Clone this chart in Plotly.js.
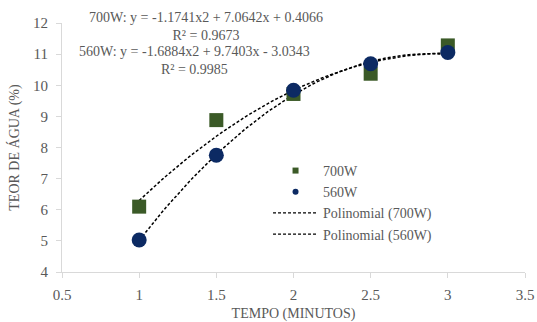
<!DOCTYPE html>
<html>
<head>
<meta charset="utf-8">
<script src="https://cdn.plot.ly/plotly-3.0.1.min.js"></script>
<style>html,body{margin:0;padding:0;background:#fff;}#chart{width:537px;height:322px;}</style>
</head>
<body>
<div id="chart"></div>
<script>
// Data
const tempo = [1, 1.5, 2, 2.5, 3];
const agua700W = [6.1, 8.88, 9.72, 10.37, 11.28];
const agua560W = [5.03, 7.75, 9.84, 10.69, 11.05];
// Trendline coefficients as printed on the chart (a*x^2 + b*x + c)
const coef700W = [-1.1741, 7.0642, 0.4066];
const coef560W = [-1.6884, 9.7403, -3.0343];
const eq700W = "700W: y = -1.1741x2 + 7.0642x + 0.4066<br>R² = 0.9673";
const eq560W = "560W: y = -1.6884x2 + 9.7403x - 3.0343<br>R² = 0.9985";
const xTicks = [0.5, 1, 1.5, 2, 2.5, 3, 3.5];
const yTicks = [4, 5, 6, 7, 8, 9, 10, 11, 12];

function trend(c) {
  const xs = [], ys = [];
  const x0 = tempo[0], x1 = tempo[tempo.length - 1];
  for (let i = 0; i <= 80; i++) {
    const x = x0 + (x1 - x0) * i / 80;
    xs.push(x);
    ys.push(c[0] * x * x + c[1] * x + c[2]);
  }
  return {x: xs, y: ys};
}
const t700 = trend(coef700W), t560 = trend(coef560W);

const green = '#3b5a27', navy = '#0c2a63', txt = '#595959';
const font = 'Liberation Serif';

const traces = [
  {x: t700.x, y: t700.y, mode: 'lines', line: {color: '#000', width: 1.5, dash: '3px,2px'}, showlegend: false, hoverinfo: 'skip'},
  {x: t560.x, y: t560.y, mode: 'lines', line: {color: '#000', width: 1.5, dash: '3px,2px'}, showlegend: false, hoverinfo: 'skip'},
  {x: tempo, y: agua700W, mode: 'markers', marker: {symbol: 'square', size: 14, color: green}, showlegend: false},
  {x: tempo, y: agua560W, mode: 'markers', marker: {symbol: 'circle', size: 15, color: navy}, showlegend: false},
  // legend entries
  {x: [null], y: [null], name: '700W', mode: 'markers', marker: {symbol: 'square', size: 6, color: green}},
  {x: [null], y: [null], name: '560W', mode: 'markers', marker: {symbol: 'circle', size: 6, color: navy}},
  {x: [null], y: [null], name: 'Polinomial (700W)', mode: 'lines', line: {color: '#000', width: 1.2, dash: '3px,2px'}},
  {x: [null], y: [null], name: 'Polinomial (560W)', mode: 'lines', line: {color: '#000', width: 1.2, dash: '3px,2px'}}
];

const layout = {
  width: 537, height: 322,
  margin: {l: 62, r: 12, t: 23, b: 50},
  paper_bgcolor: '#fff', plot_bgcolor: '#fff',
  font: {family: font, color: txt, size: 14},
  xaxis: {
    range: [0.5, 3.5], tickvals: xTicks, ticktext: xTicks.map(String),
    showgrid: false, zeroline: false, showline: true, linecolor: '#d9d9d9', linewidth: 1,
    ticks: 'outside', ticklen: 5, tickcolor: '#d9d9d9', ticklabelstandoff: 4,
    tickfont: {family: font, size: 15, color: txt},
    title: {text: 'TEMPO (MINUTOS)', font: {family: font, size: 14, color: txt}, standoff: 8}
  },
  yaxis: {
    range: [4, 12], tickvals: yTicks, ticktext: yTicks.map(String),
    showgrid: false, zeroline: false, showline: true, linecolor: '#d9d9d9', linewidth: 1,
    ticks: 'outside', ticklen: 5, tickcolor: '#d9d9d9', ticklabelstandoff: 5,
    tickfont: {family: font, size: 15, color: txt},
    title: {text: 'TEOR DE ÁGUA (%)', font: {family: font, size: 14, color: txt}, standoff: 10}
  },
  legend: {
    x: 0.445, y: 0.47, xanchor: 'left', yanchor: 'top',
    bgcolor: 'rgba(0,0,0,0)', font: {family: font, size: 14, color: txt},
    tracegroupgap: 0, itemwidth: 45
  },
  annotations: [
    {xref: 'x', yref: 'paper', x: 1.43, y: 1.06, yanchor: 'top', xanchor: 'center', align: 'center', showarrow: false,
     text: eq700W, font: {family: font, size: 14, color: txt}},
    {xref: 'x', yref: 'paper', x: 1.36, y: 0.925, yanchor: 'top', xanchor: 'center', align: 'center', showarrow: false,
     text: eq560W, font: {family: font, size: 14, color: txt}}
  ],
  showlegend: true
};

Plotly.newPlot('chart', traces, layout, {displayModeBar: false, staticPlot: true});
</script>
</body>
</html>
